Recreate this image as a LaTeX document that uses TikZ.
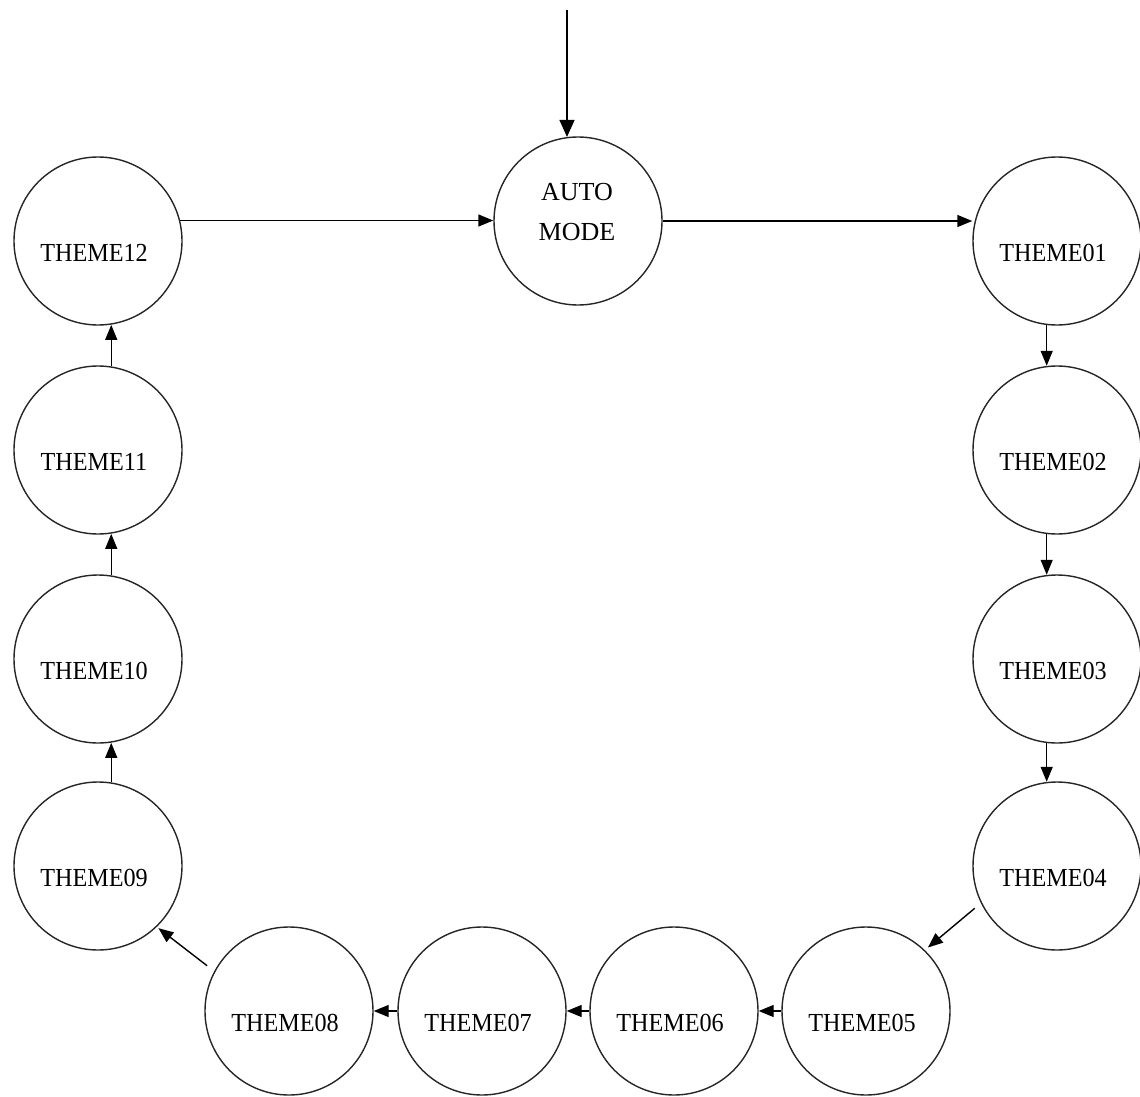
\documentclass[tikz,border=0pt]{standalone}
\usepackage{fontspec}
\setmainfont{Liberation Serif}
\newfontfamily\themefont{Liberation Serif}[FakeStretch=0.93]
\usetikzlibrary{arrows.meta}
\begin{document}
\begin{tikzpicture}[x=1pt,y=-1pt,
  circ/.style={draw=black!85,circle,line width=1.4pt,minimum size=168pt,inner sep=0pt},
  lbl/.style={inner sep=0pt,font=\themefont\fontsize{26}{30}\selectfont},
  automode/.style={inner sep=0pt,align=center,font=\fontsize{26}{40}\selectfont},
  conn/.style={line width=1.4pt,-{Triangle[length=15pt,width=12pt]}},
  bigconn/.style={line width=1.4pt,-{Triangle[length=17pt,width=15pt]}}]
\useasboundingbox (0,0) rectangle (1140,1097);
% nodes
\node[circ] (auto) at (578,221) {};
\node[automode] (autotxt) at (577,212) {AUTO\\MODE};
\foreach \n/\x/\y in {01/1057/241,02/1057/450,03/1057/659,04/1057/866,
                      05/866/1011,06/674/1011,07/482/1011,08/289/1011,
                      09/98/866,10/98/659,11/98/450,12/98/241}{
  \node[circ] (t\n) at (\x,\y) {};
  \node[lbl] (l\n) at ([xshift=-4pt,yshift=-12pt]t\n.center) {THEME\n};
}
\coordinate (start) at (567,10);
% connectors
\draw[bigconn] (start) -- (start |- auto.97.5);
\draw[conn] (t12.14.5) -- (t12.14.5 -| auto.west);
\draw[conn] (auto.0.7) -- (auto.0.7 -| t01.west);
\draw[conn] (t01.263.2) -- (t01.263.2 |- t02.96.8);
\draw[conn] (t02.263.2) -- (t02.263.2 |- t03.96.8);
\draw[conn] (t03.263.2) -- (t03.263.2 |- t04.96.8);
\draw[conn,shorten <=8pt,shorten >=4pt] (t04.206.3) -- (t05.46.4);
\draw[conn] (t05.west) -- (t06.east);
\draw[conn] (t06.west) -- (t07.east);
\draw[conn] (t07.west) -- (t08.east);
\draw[conn,shorten <=9pt,shorten >=2pt] (t08.152.6) -- (t09.-46);
\draw[conn] (t09.81.8) -- (t09.81.8 |- t10.278.2);
\draw[conn] (t10.81.8) -- (t10.81.8 |- t11.278.2);
\draw[conn] (t11.81.8) -- (t11.81.8 |- t12.278.2);
\end{tikzpicture}
\end{document}
